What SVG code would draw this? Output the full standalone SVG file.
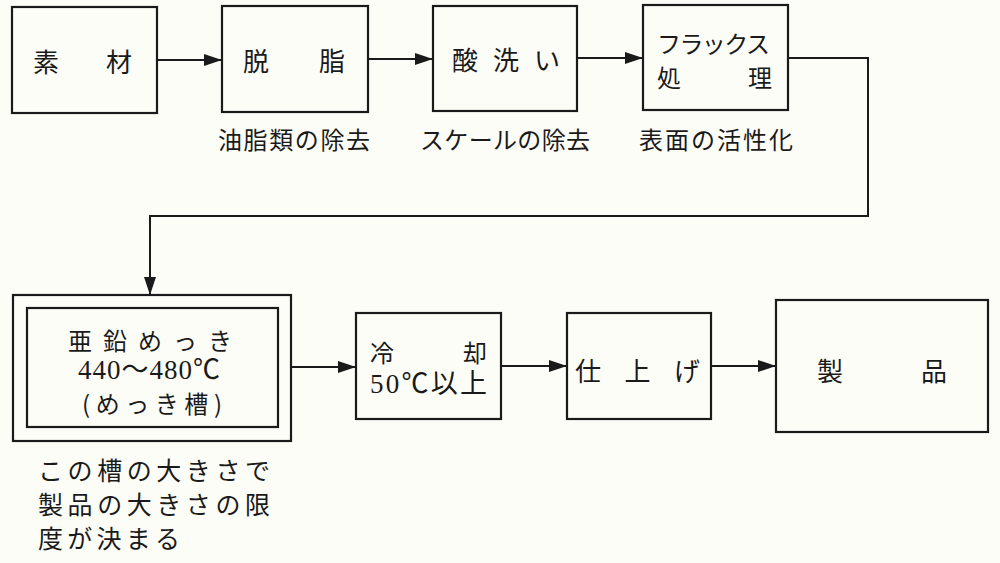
<svg xmlns="http://www.w3.org/2000/svg" width="1000" height="563" viewBox="0 0 1000 563">
<defs>
<style>
.box{fill:none;stroke:#1a1a1a;stroke-width:2.2}
.ln{fill:none;stroke:#1a1a1a;stroke-width:2}
text{font-family:"Noto Sans CJK JP","Noto Sans",sans-serif;fill:#1a1a1a;dominant-baseline:central}
.t{font-size:26px}
.m{font-size:24px}
.s{font-size:24px}
.n{font-size:25px}
.num{font-family:"Liberation Serif","Noto Sans CJK JP",serif;font-size:27px}
</style>
<marker id="ah" viewBox="0 0 18 12" refX="18" refY="6" markerWidth="18" markerHeight="12" markerUnits="userSpaceOnUse" orient="auto">
<path d="M0,0 L18,6 L0,12 Z" fill="#1a1a1a"/>
</marker>
</defs>
<rect width="1000" height="563" fill="#fdfdf8"/>
<g id="connectors">
<line class="ln" x1="157" y1="60" x2="222" y2="60" marker-end="url(#ah)"/>
<line class="ln" x1="368" y1="59" x2="433" y2="59" marker-end="url(#ah)"/>
<line class="ln" x1="577" y1="58" x2="643" y2="58" marker-end="url(#ah)"/>
<polyline class="ln" points="788,58 868,58 868,216 150,216 150,295" marker-end="url(#ah)"/>
<line class="ln" x1="291" y1="367" x2="356" y2="367" marker-end="url(#ah)"/>
<line class="ln" x1="501" y1="366" x2="567" y2="366" marker-end="url(#ah)"/>
<line class="ln" x1="711" y1="366" x2="776" y2="366" marker-end="url(#ah)"/>
</g>
<g id="n1">
<rect class="box" x="12" y="7" width="145" height="106"/>
<text class="t" x="33" y="60" textLength="99" lengthAdjust="spacing">素材</text>
</g>
<g id="n2">
<rect class="box" x="222" y="6" width="146" height="106"/>
<text class="t" x="243" y="59" textLength="102" lengthAdjust="spacing">脱脂</text>
<text class="s" x="218" y="138" textLength="152" lengthAdjust="spacing">油脂類の除去</text>
</g>
<g id="n3">
<rect class="box" x="433" y="6" width="144" height="105"/>
<text class="t" x="452" y="58" textLength="108" lengthAdjust="spacing">酸洗い</text>
<text class="s" x="420" y="138" textLength="170" lengthAdjust="spacing">スケールの除去</text>
</g>
<g id="n4">
<rect class="box" x="643" y="5" width="145" height="105"/>
<text class="m" x="657" y="42" textLength="113" lengthAdjust="spacing">フラックス</text>
<text class="m" x="657" y="76" textLength="115" lengthAdjust="spacing">処理</text>
<text class="s" x="639" y="138" textLength="154" lengthAdjust="spacing">表面の活性化</text>
</g>
<g id="n5">
<rect class="box" x="13" y="295" width="278" height="146"/>
<rect class="box" x="27" y="308" width="251" height="119"/>
<text class="m" x="68" y="339" textLength="164" lengthAdjust="spacing">亜鉛めっき</text>
<text class="num" x="78" y="370" textLength="142" lengthAdjust="spacing">440～480℃</text>
<text class="m" x="82" y="402" textLength="140" lengthAdjust="spacing">(めっき槽)</text>
<text class="n" x="38" y="469" textLength="232" lengthAdjust="spacing">この槽の大きさで</text>
<text class="n" x="38" y="503" textLength="232" lengthAdjust="spacing">製品の大きさの限</text>
<text class="n" x="38" y="537" textLength="142" lengthAdjust="spacing">度が決まる</text>
</g>
<g id="n6">
<rect class="box" x="356" y="313" width="145" height="106"/>
<text class="m" x="370" y="351" textLength="117" lengthAdjust="spacing">冷却</text>
<text class="num" x="370" y="384" textLength="117" lengthAdjust="spacing">50℃以上</text>
</g>
<g id="n7">
<rect class="box" x="567" y="313" width="144" height="106"/>
<text class="t" x="575" y="369" textLength="125" lengthAdjust="spacing">仕上げ</text>
</g>
<g id="n8">
<rect class="box" x="776" y="300" width="212" height="132"/>
<text class="t" x="817" y="369" textLength="130" lengthAdjust="spacing">製品</text>
</g>
</svg>
